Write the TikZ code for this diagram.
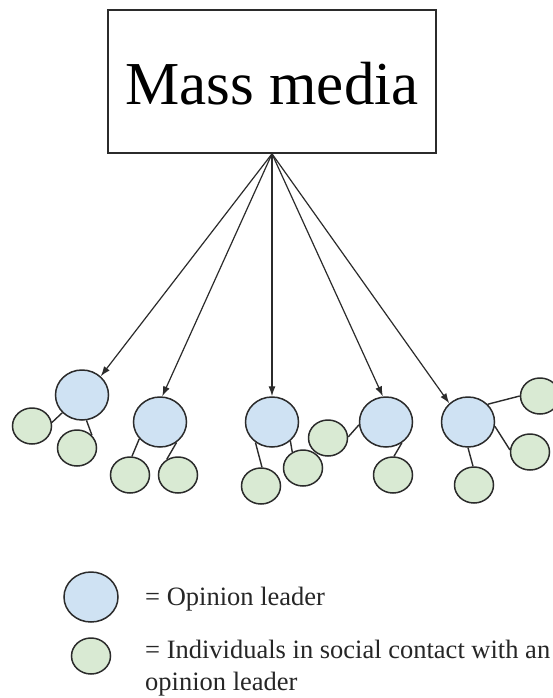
\documentclass[tikz,border=0pt]{standalone}
\usepackage{fontspec}
\setmainfont{Liberation Serif}
\usetikzlibrary{shapes.geometric,arrows.meta}

\definecolor{leaderfill}{HTML}{CFE2F3}
\definecolor{contactfill}{HTML}{D9EAD3}
\definecolor{inkline}{HTML}{2B2B2B}

\tikzset{
  mediabox/.style={draw=inkline, line width=1.6pt, fill=white, rectangle,
    minimum width=328pt, minimum height=143pt, inner sep=0pt,
    text height=47pt, text depth=0pt,
    font=\fontsize{61}{61}\selectfont, text=black},
  leader/.style={ellipse, draw=inkline, line width=1.5pt, fill=leaderfill,
    minimum width=53pt, minimum height=50pt, inner sep=0pt},
  contact/.style={ellipse, draw=inkline, line width=1.5pt, fill=contactfill,
    minimum width=39pt, minimum height=36pt, inner sep=0pt},
  flow/.style={draw=inkline, line width=1.2pt,
    -{Latex[length=10pt,width=7pt]}},
  tie/.style={draw=inkline, line width=1.4pt},
  legendtext/.style={anchor=base west, inner sep=0pt, text=black!85,
    font=\fontsize{26.5}{32}\selectfont}
}

\begin{document}
\begin{tikzpicture}[x=1pt,y=-1pt]
  \clip (0,0) rectangle (553,698);
  \fill[white] (0,0) rectangle (553,698);

  % source of the messages
  \node[mediabox] (mm) at (272,81.5) {Mass media};

  % opinion leaders
  \node[leader] (b1) at (82,395) {};
  \node[leader] (b2) at (160,422) {};
  \node[leader] (b3) at (272,422) {};
  \node[leader] (b4) at (386,422) {};
  \node[leader] (b5) at (468,422) {};

  % individuals around each leader
  \node[contact] (g1a) at (32,426) {};
  \node[contact] (g1b) at (77,448) {};
  \node[contact] (g2a) at (130,475) {};
  \node[contact] (g2b) at (178,475) {};
  \node[contact] (g3a) at (261,486) {};
  \node[contact] (g3b) at (303,468) {};
  \node[contact] (g4a) at (328,438) {};
  \node[contact] (g4b) at (393,475) {};
  \node[contact] (g5a) at (540,396) {};
  \node[contact] (g5b) at (530,452) {};
  \node[contact] (g5c) at (474,485) {};

  % media to leaders
  \draw[flow] (mm.south) -- (b1.45);
  \draw[flow] (mm.south) -- (b2.85);
  \draw[flow] (mm.south) -- (b3.north);
  \draw[flow] (mm.south) -- (b4.97);
  \draw[flow] (mm.south) -- (b5.135);

  % leaders to their contacts
  \draw[tie] (b1.222) -- (g1a.10);
  \draw[tie] (b1.280) -- (g1b.40);
  \draw[tie] (b2.219) -- (g2a.84);
  \draw[tie] (b2.309) -- (g2b.126);
  \draw[tie] (b3.231) -- (g3a.87);
  \draw[tie] (b3.314) -- (g3b.124);
  \draw[tie] (b4.186) -- (g4a.3);
  \draw[tie] (b4.307) -- (g4b.87);
  \draw[tie] (b5.42) -- (g5a.180);
  \draw[tie] (b5.351) -- (g5b.174);
  \draw[tie] (b5.270) -- (g5c.93);

  % key
  \node[leader, minimum width=54pt] (kb) at (91,597) {};
  \node[contact] (kg) at (91,656) {};
  \node[legendtext] (k1) at (145,605) {= Opinion leader};
  \node[legendtext] (k2) at (145,658) {= Individuals in social contact with an};
  \node[legendtext] (k3) at (145,690) {opinion leader};
\end{tikzpicture}
\end{document}
